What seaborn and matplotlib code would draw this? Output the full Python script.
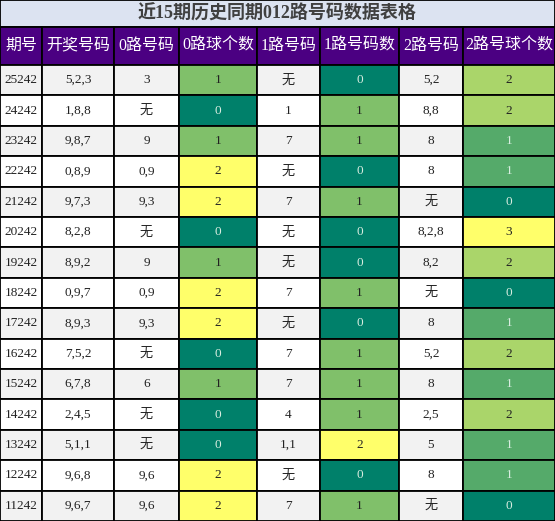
import matplotlib
matplotlib.use("Agg")
import matplotlib.pyplot as plt
import matplotlib.colors as mcolors
import seaborn as sns
import numpy as np

sns.set_style("white")
plt.rcParams['font.family'] = ['Liberation Serif', 'Noto Sans CJK SC', 'DejaVu Sans']

title = "近15期历史同期012路号码数据表格"
headers = ["期号", "开奖号码", "0路号码", "0路球个数", "1路号码", "1路号码数", "2路号码", "2路号球个数"]
periods = ["25242", "24242", "23242", "22242", "21242", "20242", "19242", "18242",
           "17242", "16242", "15242", "14242", "13242", "12242", "11242"]
draws = ["5,2,3", "1,8,8", "9,8,7", "0,8,9", "9,7,3", "8,2,8", "8,9,2", "0,9,7",
         "8,9,3", "7,5,2", "6,7,8", "2,4,5", "5,1,1", "9,6,8", "9,6,7"]
road0 = ["3", "无", "9", "0,9", "9,3", "无", "9", "0,9", "9,3", "无", "6", "无", "无", "9,6", "9,6"]
cnt0 = [1, 0, 1, 2, 2, 0, 1, 2, 2, 0, 1, 0, 0, 2, 2]
road1 = ["无", "1", "7", "无", "7", "无", "无", "7", "无", "7", "7", "4", "1,1", "无", "7"]
cnt1 = [0, 1, 1, 0, 1, 0, 0, 1, 0, 1, 1, 1, 2, 0, 1]
road2 = ["5,2", "8,8", "8", "8", "无", "8,2,8", "8,2", "无", "8", "5,2", "8", "2,5", "5", "8", "无"]
cnt2 = [2, 2, 1, 1, 0, 3, 2, 0, 1, 2, 1, 2, 1, 1, 0]

columns = [periods, draws, road0, cnt0, road1, cnt1, road2, cnt2]
count_cols = {3, 5, 7}

W, H = 555, 521
xs = [0, 42, 114, 179, 257, 320, 399, 463, 555]
title_h, head_h = 26.5, 38.5
row_h = (H - title_h - head_h) / len(periods)

cmap = mcolors.LinearSegmentedColormap.from_list(
    "road", sns.blend_palette(["#00806A", "#FFFF6A"], 2))

fig = plt.figure(figsize=(W / 100, H / 100), dpi=100)
ax = fig.add_axes([0, 0, 1, 1])
ax.set_xlim(0, W)
ax.set_ylim(H, 0)
ax.axis('off')

def cell(x0, x1, y0, h, color):
    ax.add_patch(plt.Rectangle((x0, y0), x1 - x0, h, facecolor=color,
                               edgecolor='black', linewidth=1.3))

# title
cell(0, W, 0, title_h, "#DCE3F1")
ax.text(W / 2, title_h / 2, title, ha='center', va='center', fontsize=13,
        fontweight='bold', color='#404040')

# header
y = title_h
for i, h in enumerate(headers):
    cell(xs[i], xs[i + 1], y, head_h, "#4B0082")
    ax.text((xs[i] + xs[i + 1]) / 2, y + head_h / 2, h, ha='center', va='center',
            fontsize=11.5, color='white')

# rows
for r in range(len(periods)):
    y0 = title_h + head_h + r * row_h
    base = "#F2F2F2" if r % 2 == 0 else "white"
    for c, col in enumerate(columns):
        val = col[r]
        tc = '#222222'
        if c in count_cols:
            vmax = max(col)
            t = val / vmax
            fc = cmap(t)
            if t < 0.4:
                tc = '#D8EDE0'
        else:
            fc = base
        cell(xs[c], xs[c + 1], y0, row_h, fc)
        ax.text((xs[c] + xs[c + 1]) / 2, y0 + row_h / 2, str(val), ha='center',
                va='center', fontsize=9.5, color=tc)

fig.savefig("out.png", dpi=100)
